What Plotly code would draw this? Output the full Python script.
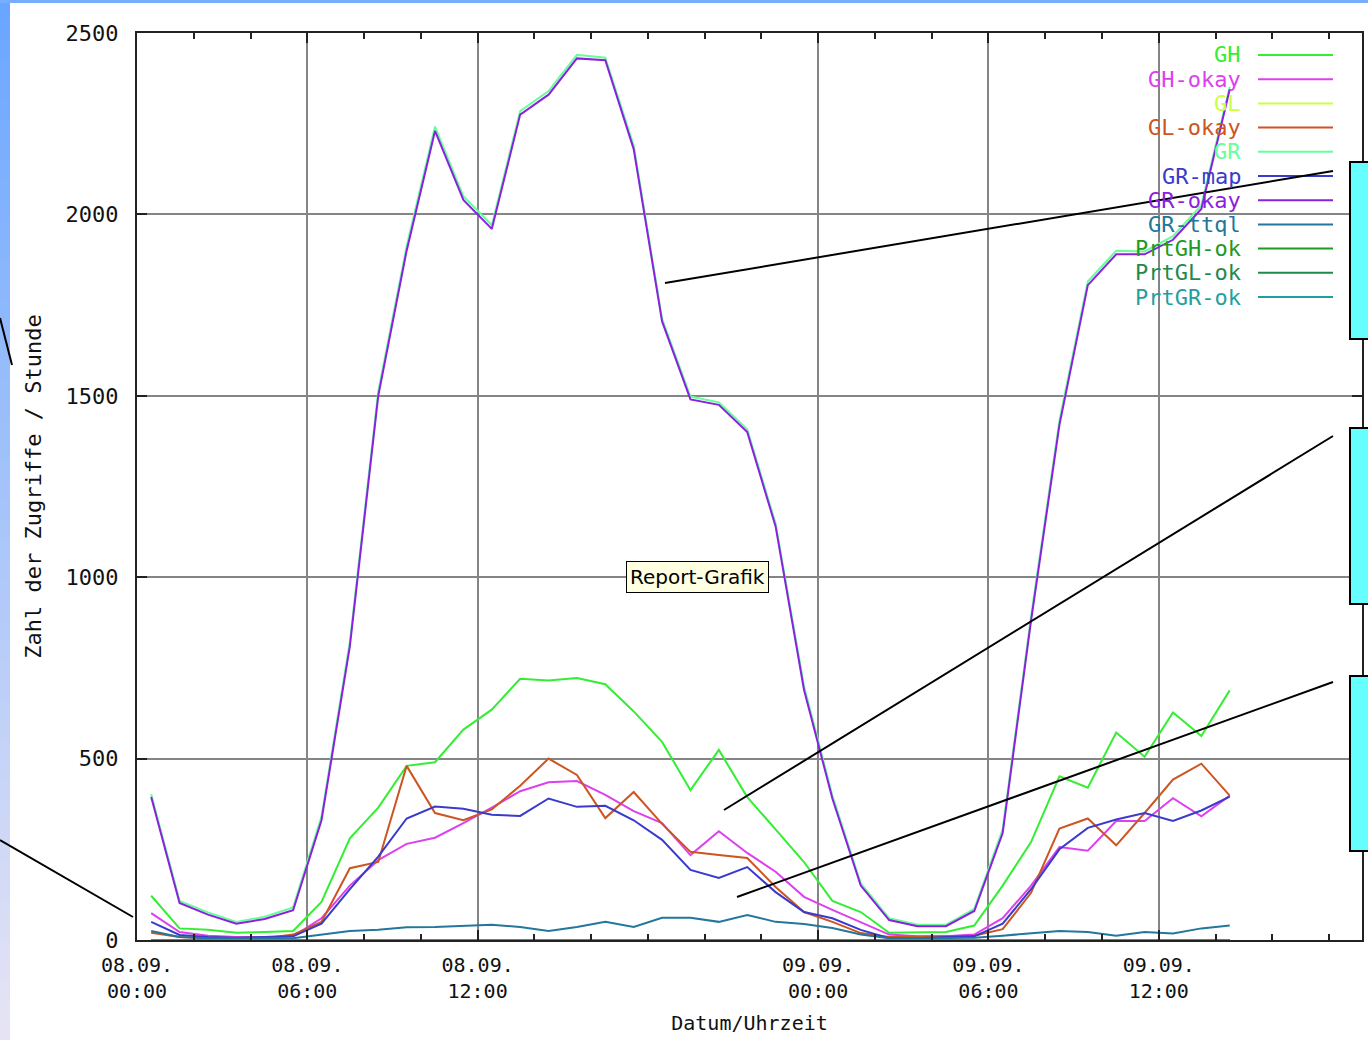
import plotly.graph_objects as go

# ---------------- data (hours since 08.09. 00:00, one value per hour) ----------------
hours = [0.5, 1.5, 2.5, 3.5, 4.5, 5.5, 6.5, 7.5, 8.5, 9.5, 10.5, 11.5, 12.5,
         13.5, 14.5, 15.5, 16.5, 17.5, 18.5, 19.5, 20.5, 21.5, 22.5, 23.5, 24.5,
         25.5, 26.5, 27.5, 28.5, 29.5, 30.5, 31.5, 32.5, 33.5, 34.5, 35.5, 36.5,
         37.5, 38.5]

GH = [122, 32, 28, 20, 22, 25, 105, 280, 365, 480, 490, 580, 635, 720, 715, 722,
      705, 630, 546, 413, 524, 394, 305, 215, 108, 77, 20, 22, 22, 40, 150, 270,
      451, 420, 572, 505, 627, 562, 688]
GH_okay = [74, 22, 12, 8, 8, 10, 60, 150, 220, 265, 282, 322, 365, 410, 435, 438,
           400, 355, 322, 234, 300, 240, 188, 119, 83, 50, 15, 10, 10, 15, 60, 150,
           256, 246, 328, 328, 391, 341, 398]
GL = [0, 0, 0, 0, 0, 0, 0, 0, 0, 0, 0, 0, 0, 0, 0, 0, 0, 0, 0, 0, 0, 0, 0, 0, 0,
      0, 0, 0, 0, 0, 0, 0, 0, 0, 0, 0, 0, 0, 0]
GL_okay = [20, 8, 5, 3, 5, 15, 50, 198, 215, 480, 350, 330, 360, 425, 500, 455,
           336, 408, 320, 243, 234, 226, 146, 77, 50, 19, 8, 8, 10, 12, 30, 130,
           307, 335, 261, 350, 442, 486, 398]
GR = [402, 108, 76, 50, 64, 90, 340, 822, 1512, 1912, 2242, 2050, 1970, 2285,
      2340, 2440, 2432, 2190, 1712, 1498, 1482, 1408, 1148, 700, 398, 156, 60, 42,
      42, 86, 305, 892, 1432, 1815, 1900, 1898, 1940, 2025, 2352]
GR_map = [50, 14, 8, 6, 8, 10, 45, 140, 230, 335, 368, 362, 345, 342, 390, 367,
          370, 330, 276, 193, 171, 201, 132, 77, 60, 28, 5, 5, 8, 10, 45, 140, 250,
          309, 332, 350, 328, 357, 395]
GR_okay = [394, 102, 70, 45, 58, 82, 330, 810, 1500, 1900, 2230, 2040, 1960, 2275,
           2330, 2430, 2425, 2180, 1705, 1490, 1475, 1400, 1140, 690, 390, 150, 55,
           38, 38, 80, 295, 880, 1420, 1805, 1890, 1890, 1930, 2015, 2345]
GR_ttql = [25, 8, 5, 4, 5, 5, 15, 25, 28, 35, 36, 38, 42, 36, 25, 36, 50, 36, 61,
           61, 50, 69, 50, 44, 33, 15, 5, 5, 5, 6, 12, 18, 25, 22, 12, 22, 18, 32, 40]
PrtGH_ok = [0, 0, 0, 0, 0, 0, 0, 0, 0, 0, 0, 0, 0, 0, 0, 0, 0, 0, 0, 0, 0, 0, 0,
            0, 0, 0, 0, 0, 0, 0, 0, 0, 0, 0, 0, 0, 0, 0, 0]
PrtGL_ok = [0, 0, 0, 0, 0, 0, 0, 0, 0, 0, 0, 0, 0, 0, 0, 0, 0, 0, 0, 0, 0, 0, 0,
            0, 0, 0, 0, 0, 0, 0, 0, 0, 0, 0, 0, 0, 0, 0, 0]
PrtGR_ok = [0, 0, 0, 0, 0, 0, 0, 0, 0, 0, 0, 0, 0, 0, 0, 0, 0, 0, 0, 0, 0, 0, 0,
            0, 0, 0, 0, 0, 0, 0, 0, 0, 0, 0, 0, 0, 0, 0, 0]

series_names = ["GH", "GH-okay", "GL", "GL-okay", "GR", "GR-map", "GR-okay",
                "GR-ttql", "PrtGH-ok", "PrtGL-ok", "PrtGR-ok"]
series_values = [GH, GH_okay, GL, GL_okay, GR, GR_map, GR_okay, GR_ttql,
                 PrtGH_ok, PrtGL_ok, PrtGR_ok]
series_colors = ["#33ee33", "#dd40ee", "#ccff44", "#cc5522", "#66ff99", "#3a3acc",
                 "#8a22dd", "#22779a", "#229922", "#1f8a4a", "#1fa0a0"]

x_tickvals = [0, 6, 12, 24, 30, 36]
x_ticktext = ["08.09.<br>00:00", "08.09.<br>06:00", "08.09.<br>12:00",
              "09.09.<br>00:00", "09.09.<br>06:00", "09.09.<br>12:00"]

# ---------------- geometry helpers (pixel -> paper) ----------------
W, H = 1368, 1040
L, R, T, B = 137, 1362, 33, 940
X_MAX = 43.16


def px(x):
    return (x - L) / (R - L)


def py(y):
    return (B - y) / (B - T)


MONO = "DejaVu Sans Mono"

fig = go.Figure()
for name, vals, color in zip(series_names, series_values, series_colors):
    fig.add_trace(go.Scatter(x=hours, y=vals, mode="lines", name=name,
                             line=dict(color=color, width=2), showlegend=False,
                             hoverinfo="skip"))

shapes = []
annotations = []

# gnuplot-style legend (label right-aligned, sample line to the right)
for i, (name, color) in enumerate(zip(series_names, series_colors)):
    yy = 55 + 24.2 * i
    annotations.append(dict(x=px(1243), y=py(yy), xref="paper", yref="paper",
                            text=name, showarrow=False, xanchor="right",
                            yanchor="middle",
                            font=dict(family=MONO, size=22, color=color)))
    shapes.append(dict(type="line", xref="paper", yref="paper",
                       x0=px(1258), x1=px(1333), y0=py(yy), y1=py(yy),
                       line=dict(color=color, width=2), layer="above"))

# left gradient strip and top strip of the slide
n = 52
c0 = (106, 166, 255)
c1 = (230, 228, 244)
for k in range(n):
    f = k / (n - 1)
    c = tuple(int(round(c0[j] + (c1[j] - c0[j]) * f)) for j in range(3))
    y0 = H * k / n
    y1 = H * (k + 1) / n + 1
    shapes.append(dict(type="rect", xref="paper", yref="paper",
                       x0=px(0), x1=px(10), y0=py(y0), y1=py(y1),
                       fillcolor="rgb(%d,%d,%d)" % c, line=dict(width=0),
                       layer="above"))
shapes.append(dict(type="rect", xref="paper", yref="paper",
                   x0=px(0), x1=px(W), y0=py(0), y1=py(3),
                   fillcolor="rgb(120,174,255)", line=dict(width=0), layer="above"))

# callout lines
for (xa, ya, xb, yb) in [(665, 283, 1333, 171), (724, 810, 1333, 436),
                         (737, 897, 1333, 682), (0, 840, 133, 917),
                         (0, 318, 12, 365)]:
    shapes.append(dict(type="line", xref="paper", yref="paper",
                       x0=px(xa), y0=py(ya), x1=px(xb), y1=py(yb),
                       line=dict(color="black", width=2), layer="above"))

# cyan callout boxes at the right edge
for (ya, yb) in [(162, 339), (428, 604), (676, 851)]:
    shapes.append(dict(type="rect", xref="paper", yref="paper",
                       x0=px(1350), x1=px(1380), y0=py(ya), y1=py(yb),
                       fillcolor="#66ffff", line=dict(color="black", width=2),
                       layer="above"))

# tooltip
annotations.append(dict(x=px(697), y=py(577), xref="paper", yref="paper",
                        text="Report-Grafik", showarrow=False,
                        xanchor="center", yanchor="middle",
                        font=dict(family="DejaVu Sans", size=20, color="black"),
                        bgcolor="#ffffe1", bordercolor="black", borderwidth=1,
                        borderpad=3))

axis_common = dict(
    showline=True, linecolor="#222", linewidth=2, mirror="allticks",
    ticks="inside", ticklen=10, tickwidth=2, tickcolor="#222",
    showgrid=True, gridcolor="#858585", gridwidth=1.5, zeroline=False,
)

fig.update_layout(
    width=W, height=H,
    margin=dict(l=L, r=W - R, t=T, b=H - B, autoexpand=False),
    paper_bgcolor="white", plot_bgcolor="white",
    showlegend=False,
    xaxis=dict(range=[0, X_MAX], tickmode="array", tickvals=x_tickvals,
               ticktext=x_ticktext, ticklabelstandoff=6,
               tickfont=dict(family=MONO, size=20, color="#111"),
               minor=dict(tickmode="linear", tick0=0, dtick=2, ticks="inside",
                          ticklen=6, tickwidth=1.5, tickcolor="#222",
                          showgrid=False),
               title=dict(text="Datum/Uhrzeit", standoff=14,
                          font=dict(family=MONO, size=20, color="#111")),
               **axis_common),
    yaxis=dict(range=[0, 2500], tickmode="linear", tick0=0, dtick=500,
               ticklabelstandoff=12,
               tickfont=dict(family=MONO, size=22, color="#111"),
               title=dict(text="Zahl der Zugriffe / Stunde", standoff=18,
                          font=dict(family=MONO, size=22, color="#111")),
               **axis_common),
    shapes=shapes,
    annotations=annotations,
)

fig.write_html("out.html",
               config={"displayModeBar": False},
               post_script="document.body.style.margin='0px';"
                           "document.body.style.overflow='hidden';")
